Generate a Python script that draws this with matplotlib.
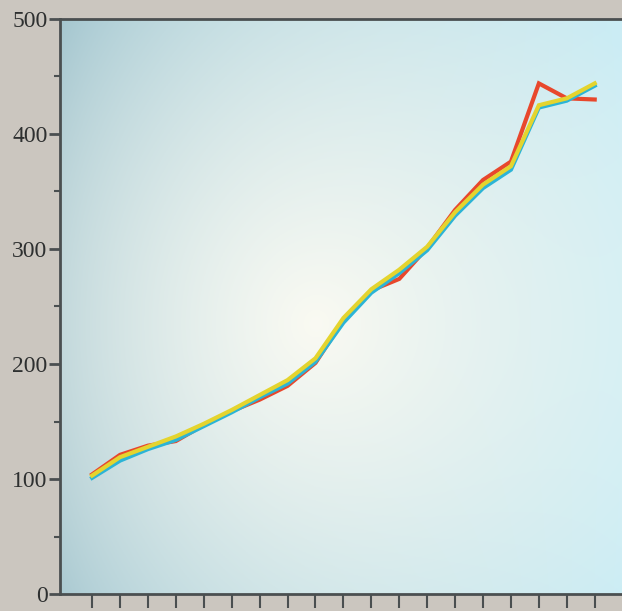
import numpy as np
import matplotlib.pyplot as plt

# Data
periods = list(range(19))
red_values = [104, 121, 129, 133, 147, 159, 169, 181, 201, 238, 264, 274, 301, 334, 360, 376, 444, 431, 430]
yellow_values = [103, 119, 128, 137, 148, 160, 173, 186, 205, 240, 265, 282, 302, 332, 356, 372, 425, 431, 444]
cyan_values = [101, 116, 126, 134, 146, 158, 171, 183, 202, 236, 262, 279, 299, 329, 353, 369, 423, 429, 442]
y_ticks = [0, 100, 200, 300, 400, 500]

W, H = 622, 611
fig = plt.figure(figsize=(W / 100, H / 100), dpi=100)
fig.patch.set_facecolor('#cbc6bf')

ax = fig.add_axes([60 / W, 17 / H, 1.0 - 60 / W + 0.01, 575 / H])

# Background gradient: grey-blue at left, whitish glow near centre, pale cyan at right
nx, ny = 300, 300
gx, gy = np.meshgrid(np.linspace(0, 1, nx), np.linspace(1, 0, ny))
left = np.array([0.62, 0.76, 0.80])
right = np.array([0.80, 0.93, 0.96])
white = np.array([0.98, 0.98, 0.95])
t = np.clip(gx ** 0.7, 0, 1)[..., None]
base = left * (1 - t) + right * t
d = np.sqrt(((gx - 0.45) / 0.7) ** 2 + ((gy - 0.47) / 0.75) ** 2)
glow = np.clip(1 - d, 0, 1)[..., None] ** 0.9
img = base * (1 - glow) + white * glow
ax.imshow(img, extent=[0, 1, 0, 1], transform=ax.transAxes, aspect='auto', zorder=0)

lw = 3.0
ax.plot(periods, red_values, color='#e8472c', lw=lw, zorder=3, solid_joinstyle='miter')
ax.plot(periods, cyan_values, color='#2cb4d6', lw=lw, zorder=4, solid_joinstyle='miter')
ax.plot(periods, yellow_values, color='#e4d42e', lw=lw, zorder=5, solid_joinstyle='miter')

ax.set_xlim(-1.15, 19.2)
ax.set_ylim(0, 500)

ax.set_xticks(periods)
ax.set_xticklabels([])
ax.set_yticks(y_ticks)
ax.set_yticks(np.arange(50, 500, 100), minor=True)
ax.set_yticklabels([str(v) for v in y_ticks], fontfamily='Liberation Serif', fontsize=17, color='#2e3030')

spine_color = '#4a4f50'
for side in ['left', 'bottom', 'top']:
    ax.spines[side].set_color(spine_color)
    ax.spines[side].set_linewidth(2)
ax.spines['right'].set_visible(False)
ax.tick_params(axis='y', which='major', direction='out', length=8, width=2, color=spine_color, pad=1)
ax.tick_params(axis='y', which='minor', direction='out', length=4, width=1.5, color=spine_color)
ax.tick_params(axis='x', which='major', direction='out', length=10, width=1.5, color=spine_color)

fig.savefig('out.png', dpi=100, facecolor=fig.get_facecolor())
